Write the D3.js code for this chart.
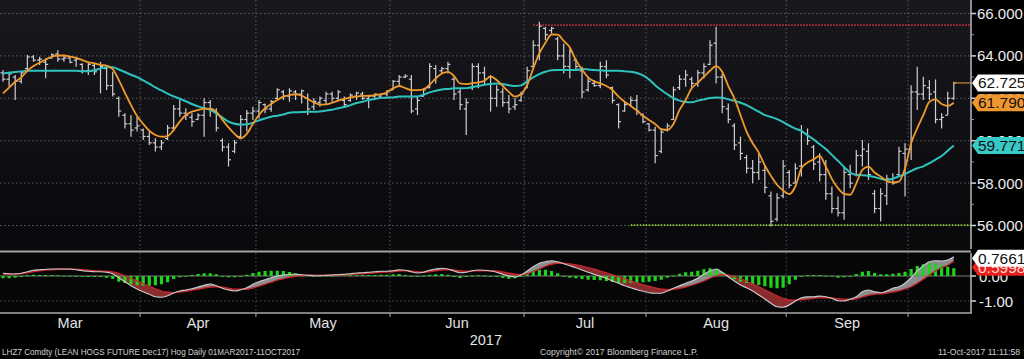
<!DOCTYPE html>
<html>
<head>
<meta charset="utf-8">
<script src="https://cdnjs.cloudflare.com/ajax/libs/d3/7.8.5/d3.min.js"></script>
<style>
    body { margin: 0; background: #000; overflow: hidden; }
    text { font-family: "Liberation Sans", Arial, sans-serif; }
</style>
</head>
<body>
<div id="chart"></div>
<script>
// trading days per month, Mar 2017 - 11 Oct 2017
const monthNames = ["Mar", "Apr", "May", "Jun", "Jul", "Aug", "Sep", "Oct"];
const monthDays = [23, 19, 22, 22, 20, 23, 20, 8];

const priceTicks = [66, 64, 62, 60, 58, 56];
const priceMinorTicks = [65, 63, 61, 59, 57];
const macdTicks = [0, -1];

// daily bars, LHZ7
const highs = [63.33,63.25,63.10,63.25,64.04,64.04,63.96,63.88,64.12,64.27, 64.04,63.99,63.96,63.65,63.72,63.65,63.72,63.49,63.25,62.08,
    61.29,61.21,61.13,60.58,60.43,60.11,60.03,60.74,61.68,61.92, 61.53,61.29,61.29,62.00,61.92,61.53,60.11,59.88,60.03,61.21,
    61.45,61.60,61.92,61.76,61.92,62.47,62.39,62.47,62.39,62.42, 62.23,62.00,62.08,62.31,62.31,62.39,62.08,62.23,62.31,62.31,
    62.15,62.23,62.23,62.39,62.86,63.10,63.14,63.10,62.08,62.47, 63.65,63.57,63.49,63.72,63.02,62.47,62.00,63.65,63.65,63.49,
    63.10,62.62,62.47,62.15,62.00,62.31,63.49,64.74,65.61,65.37, 65.37,64.90,64.59,64.35,63.88,63.49,63.02,62.86,63.72,63.80,
    62.55,61.76,61.84,62.08,62.15,61.29,60.82,60.66,60.58,60.82, 62.55,63.10,63.33,63.02,63.33,63.65,64.74,65.37,63.17,61.76,
    60.82,60.19,59.33,59.09,59.41,58.78,57.60,57.52,59.09,58.62, 58.94,60.74,60.58,59.80,59.41,59.09,57.84,57.37,58.78,58.86,
    59.56,60.03,59.88,57.68,57.76,58.39,58.46,59.72,59.88,62.62, 63.49,63.02,62.86,62.89,61.29,62.31,62.78];
const lows = [62.78,62.55,61.92,62.70,63.33,63.72,63.57,62.94,63.88,63.72, 63.72,63.65,63.49,63.17,63.10,63.10,62.23,62.39,62.08,61.13,
    60.58,60.19,60.43,60.03,59.80,59.49,59.56,60.03,60.43,61.13, 60.98,60.66,60.98,60.19,61.13,60.43,59.49,58.78,59.41,60.11,
    60.43,60.98,61.05,61.29,61.37,61.92,61.92,61.84,61.92,61.76, 61.21,61.45,61.60,61.68,61.84,61.92,61.60,61.84,61.92,61.92,
    61.53,61.92,62.00,62.08,62.39,62.62,62.94,61.29,61.21,62.08, 62.47,62.70,63.17,63.17,61.92,61.45,60.27,62.39,62.47,62.62,
    61.37,61.60,61.60,61.29,61.45,61.84,62.47,63.49,63.80,64.74, 65.06,63.80,63.17,62.94,63.33,62.00,62.31,62.55,62.47,62.94,
    61.76,60.58,61.37,61.60,61.21,60.82,60.43,58.94,59.41,60.43, 60.98,62.39,62.55,62.47,62.55,62.94,63.57,62.70,61.29,60.82,
    59.56,59.09,58.46,57.99,58.15,57.52,55.95,56.19,57.29,57.76, 57.99,58.31,59.80,58.62,58.07,57.21,56.58,56.42,56.27,57.76,
    58.31,58.78,58.15,56.58,56.19,56.97,57.92,58.31,57.37,59.09, 61.45,61.92,61.92,60.82,60.58,61.21,61.92];
const opens = [63.20,62.90,63.00,62.80,63.40,63.95,63.80,63.70,63.90,64.10, 63.85,63.90,63.80,63.60,63.30,63.55,63.40,63.40,62.60,62.00,
    61.20,60.80,60.60,60.50,60.20,59.90,59.70,60.10,60.60,61.50, 61.30,61.10,61.00,61.20,61.80,61.40,60.00,59.70,59.50,60.20,
    61.00,61.30,61.40,61.70,61.50,62.00,62.30,62.10,62.30,62.20, 62.00,61.60,61.80,61.90,62.20,62.00,61.90,61.90,62.10,62.20,
    62.00,62.10,62.10,62.20,62.40,62.80,63.00,62.90,61.50,62.10, 62.50,63.40,63.30,63.40,62.90,62.30,61.50,62.50,63.50,63.20,
    63.00,62.00,62.30,61.80,61.60,61.90,62.50,63.50,64.50,65.30, 65.20,64.80,64.00,63.50,63.80,63.30,62.40,62.70,62.60,63.50,
    62.50,61.70,61.40,61.70,61.90,61.20,60.80,60.50,59.50,60.50, 61.00,62.50,62.90,62.90,62.70,63.20,63.60,64.60,63.00,61.50,
    60.70,59.90,59.20,58.70,58.50,58.60,57.40,56.30,57.40,58.50, 58.00,58.80,60.30,59.70,59.00,58.40,57.50,56.80,56.60,58.40,
    58.40,59.30,59.50,57.50,56.80,57.40,58.20,58.40,59.40,59.60, 62.30,62.20,62.50,62.30,61.00,61.20,62.00];
const closes = [62.90,63.15,62.80,63.20,63.95,63.80,63.85,63.60,64.05,63.85, 63.90,63.70,63.85,63.30,63.60,63.25,63.50,62.60,62.20,61.40,
    60.80,60.50,60.70,60.20,59.90,59.70,59.90,60.60,61.50,61.30, 61.20,60.90,61.20,61.80,61.50,60.60,59.70,59.10,59.90,61.00,
    61.30,61.40,61.80,61.50,61.85,62.40,62.10,62.35,62.20,62.35, 61.50,61.85,62.00,62.20,62.00,62.30,61.70,62.15,62.25,62.00,
    62.10,62.20,62.20,62.35,62.80,63.00,63.05,61.40,61.90,62.40, 63.50,63.00,63.40,63.60,62.20,61.70,61.80,63.50,63.20,62.90,
    62.00,62.40,61.80,61.50,61.70,62.20,63.30,64.50,65.40,65.00, 65.30,64.00,63.50,64.20,63.50,62.30,62.80,62.60,63.50,63.10,
    61.90,60.90,61.70,61.90,61.40,60.90,60.50,59.30,60.40,60.70, 62.40,62.90,63.10,62.70,63.20,63.50,64.50,63.00,61.60,61.00,
    59.80,59.40,58.70,58.50,59.00,57.80,56.20,57.30,58.80,57.90, 58.70,60.40,60.00,58.90,58.40,57.50,56.80,56.60,58.50,58.00,
    59.30,59.60,58.40,56.80,57.50,58.20,58.00,59.50,59.60,62.30, 62.20,62.60,62.20,61.00,61.10,62.00,62.725];

// moving averages as drawn (orange = short, teal = long)
const maShort = [62.23,62.50,62.78,62.99,63.30,63.52,63.68,63.83,63.96,64.02, 64.02,63.97,63.91,63.80,63.70,63.65,63.58,63.54,63.38,62.86,
    62.26,61.68,61.16,60.79,60.47,60.27,60.19,60.22,60.51,60.90, 61.21,61.37,61.45,61.51,61.50,61.37,60.98,60.63,60.32,60.11,
    60.32,60.79,61.21,61.53,61.73,61.92,62.08,62.15,62.19,62.12, 61.97,61.81,61.70,61.71,61.79,61.89,61.97,62.04,62.08,62.11,
    62.12,62.15,62.19,62.28,62.47,62.58,62.48,62.39,62.39,62.42, 62.64,62.94,63.17,63.25,63.05,62.70,62.67,62.72,62.75,62.83,
    63.03,62.86,62.58,62.30,62.08,62.20,62.62,63.41,64.12,64.62, 65.01,65.00,64.71,64.40,63.80,63.36,62.99,62.80,62.70,62.58,
    62.39,62.08,61.84,61.64,61.42,61.18,60.98,60.79,60.54,60.51, 60.79,61.45,61.92,62.47,62.73,63.02,63.30,63.52,63.25,62.58,
    62.00,61.21,60.43,59.88,59.44,58.83,58.34,57.92,57.65,57.48, 57.84,58.70,58.97,59.12,59.28,58.78,58.20,57.76,57.49,57.45,
    57.99,58.62,58.78,58.50,58.31,58.10,58.03,58.07,58.70,59.88, 60.58,61.21,61.84,61.95,61.73,61.64,61.79];
const maLong = [63.17,63.21,63.24,63.27,63.30,63.30,63.30,63.30,63.30,63.30, 63.30,63.30,63.30,63.28,63.28,63.32,63.40,63.47,63.47,63.36,
    63.24,63.11,63.00,62.84,62.69,62.51,62.37,62.22,62.09,61.98, 61.86,61.73,61.62,61.53,61.46,61.29,61.09,60.90,60.80,60.76,
    60.77,60.85,60.96,61.05,61.13,61.18,61.24,61.32,61.34,61.35, 61.37,61.37,61.38,61.42,61.46,61.53,61.59,61.68,61.78,61.84,
    61.92,61.97,62.02,62.03,62.04,62.08,62.08,62.08,62.09,62.17, 62.28,62.36,62.42,62.44,62.47,62.47,62.48,62.53,62.58,62.64,
    62.67,62.70,62.67,62.62,62.58,62.61,62.80,62.99,63.14,63.25, 63.32,63.33,63.33,63.33,63.33,63.38,63.36,63.33,63.32,63.30,
    63.30,63.30,63.27,63.25,63.19,63.08,62.89,62.62,62.39,62.19, 62.01,61.89,61.82,61.81,61.89,61.95,62.01,62.04,62.03,61.95,
    61.89,61.79,61.68,61.53,61.37,61.21,61.12,61.02,60.88,60.71, 60.57,60.46,60.25,60.07,59.83,59.61,59.33,59.05,58.76,58.50,
    58.39,58.37,58.34,58.29,58.20,58.15,58.21,58.31,58.43,58.57, 58.70,58.79,58.94,59.11,59.28,59.53,59.77];

// MACD panel
const macdLine = [0.11,0.09,0.08,0.11,0.17,0.23,0.25,0.27,0.28,0.28, 0.28,0.28,0.25,0.21,0.19,0.17,0.17,0.15,0.09,-0.07,
    -0.23,-0.39,-0.52,-0.63,-0.73,-0.83,-0.85,-0.79,-0.68,-0.60, -0.56,-0.51,-0.44,-0.37,-0.32,-0.39,-0.49,-0.56,-0.60,-0.55,
    -0.47,-0.33,-0.23,-0.15,-0.07,0.00,0.04,0.07,0.07,0.05, 0.03,0.01,0.01,0.03,0.04,0.05,0.07,0.09,0.12,0.13,
    0.15,0.17,0.19,0.19,0.21,0.25,0.23,0.17,0.12,0.15, 0.23,0.28,0.31,0.28,0.20,0.13,0.15,0.21,0.24,0.23,
    0.20,0.15,0.07,0.00,-0.04,0.04,0.20,0.37,0.51,0.57, 0.61,0.57,0.49,0.41,0.33,0.24,0.15,0.07,-0.01,-0.09,
    -0.20,-0.29,-0.39,-0.47,-0.55,-0.61,-0.67,-0.69,-0.69,-0.60, -0.49,-0.39,-0.29,-0.20,-0.09,0.07,0.20,0.28,0.15,-0.03,
    -0.20,-0.36,-0.47,-0.60,-0.76,-0.92,-1.09,-1.23,-1.25,-1.16, -1.00,-0.87,-0.83,-0.83,-0.80,-0.83,-0.89,-0.99,-1.00,-0.93,
    -0.83,-0.63,-0.56,-0.63,-0.67,-0.60,-0.49,-0.43,-0.29,-0.07, 0.20,0.41,0.57,0.61,0.60,0.64,0.77];
const signalLine = [0.07,0.07,0.08,0.09,0.13,0.17,0.21,0.24,0.25,0.27, 0.27,0.27,0.27,0.25,0.23,0.21,0.20,0.19,0.16,0.11,
    0.01,-0.09,-0.20,-0.31,-0.41,-0.51,-0.60,-0.65,-0.67,-0.64, -0.61,-0.57,-0.53,-0.48,-0.44,-0.43,-0.45,-0.49,-0.53,-0.53,
    -0.53,-0.48,-0.41,-0.33,-0.25,-0.17,-0.11,-0.05,-0.01,0.01, 0.03,0.03,0.03,0.03,0.04,0.04,0.05,0.07,0.08,0.09,
    0.11,0.13,0.15,0.16,0.17,0.20,0.21,0.20,0.17,0.16, 0.17,0.21,0.24,0.25,0.24,0.21,0.19,0.20,0.21,0.21,
    0.21,0.20,0.16,0.11,0.07,0.05,0.09,0.17,0.28,0.39, 0.47,0.51,0.51,0.48,0.44,0.39,0.33,0.27,0.20,0.13,
    0.05,-0.03,-0.11,-0.19,-0.27,-0.35,-0.41,-0.48,-0.53,-0.55, -0.53,-0.49,-0.44,-0.37,-0.29,-0.20,-0.09,0.00,0.05,0.04,
    -0.03,-0.12,-0.21,-0.32,-0.43,-0.55,-0.67,-0.79,-0.89,-0.96, -0.97,-0.95,-0.92,-0.89,-0.87,-0.87,-0.88,-0.91,-0.93,-0.93,
    -0.91,-0.84,-0.77,-0.73,-0.71,-0.68,-0.64,-0.59,-0.52,-0.43, -0.29,-0.13,0.04,0.20,0.33,0.43,0.60];
const histValues = [-0.09,-0.09,-0.07,-0.04,0.04,0.05,0.04,0.04,0.04,0.03, 0.01,0.01,0.00,-0.03,-0.04,-0.04,-0.04,-0.07,-0.12,-0.23,
    -0.28,-0.33,-0.37,-0.39,-0.39,-0.37,-0.33,-0.25,-0.12,-0.05, -0.01,0.04,0.08,0.11,0.11,0.07,-0.03,-0.05,-0.05,-0.01,
    0.05,0.12,0.17,0.20,0.21,0.21,0.20,0.16,0.11,0.05, 0.03,0.01,0.01,0.01,0.01,0.03,0.03,0.03,0.03,0.04,
    0.04,0.04,0.05,0.05,0.07,0.08,0.04,-0.01,-0.03,0.01, 0.05,0.07,0.08,0.05,-0.04,-0.08,-0.04,0.01,0.03,0.01,
    0.00,-0.04,-0.08,-0.11,-0.09,0.00,0.12,0.23,0.25,0.25, 0.20,0.11,0.00,-0.07,-0.09,-0.12,-0.15,-0.16,-0.17,-0.20,
    -0.24,-0.28,-0.28,-0.27,-0.27,-0.25,-0.23,-0.20,-0.15,-0.07, 0.01,0.09,0.15,0.17,0.21,0.27,0.31,0.28,0.15,-0.03,
    -0.13,-0.23,-0.28,-0.33,-0.36,-0.41,-0.47,-0.49,-0.47,-0.33, -0.15,-0.03,0.03,0.04,0.04,0.01,-0.03,-0.07,-0.05,0.00,
    0.08,0.17,0.20,0.12,0.07,0.07,0.09,0.12,0.17,0.28, 0.40,0.47,0.51,0.49,0.44,0.37,0.31];

// horizontal study lines: [start day, level]
const resistance = [87, 65.45];
const support = [103, 56.02];

// last-value tags
const priceTags = [["62.725", 62.725, "#ffffff"], ["61.790", 61.790, "#f0962e"], ["59.771", 59.771, "#36c9c6"]];
const macdTags = [["0.7661", 0.7661, "#ffffff"], ["0.5998", 0.5998, "#e8201c"]];

const titleText = "LHZ7 Comdty (LEAN HOGS FUTURE  Dec17) Hog  Daily 01MAR2017-11OCT2017";
const copyText = "Copyright\u00a9 2017 Bloomberg Finance L.P.";
const stampText = "11-Oct-2017 11:11:58";
const yearText = "2017";

function init() {
    let width = 1024;
    let height = 359;
    let axisX = 971;
    let svg = d3.select("#chart")
        .append("svg")
        .attr("width", width)
        .attr("height", height);

    let n = closes.length;
    let xScale = d3.scaleLinear().domain([0, n - 1]).range([3, 953.8]);
    let yScale = d3.scaleLinear().domain([56, 66]).range([225.5, 13.5]);
    let mScale = d3.scaleLinear().domain([-1, 0]).range([301, 276]);

    // backgrounds
    let grad = svg.append("defs").append("linearGradient")
        .attr("id", "bg").attr("x1", 0).attr("y1", 0).attr("x2", 0).attr("y2", 1);
    grad.append("stop").attr("offset", "0%").attr("stop-color", "#18181d");
    grad.append("stop").attr("offset", "100%").attr("stop-color", "#09090c");
    svg.append("rect").attr("width", width).attr("height", height).attr("fill", "#000");
    svg.append("rect").attr("x", 0).attr("y", 0).attr("width", axisX).attr("height", 250).attr("fill", "url(#bg)");
    svg.append("rect").attr("x", 0).attr("y", 253).attr("width", axisX).attr("height", 60).attr("fill", "#060607");

    // month boundaries
    let starts = [];
    let acc = 0;
    monthDays.forEach(d => { starts.push(acc); acc += d; });
    let bounds = starts.slice(1);

    // grid
    svg.append("g").selectAll("line").data(priceTicks).join("line")
        .attr("x1", 0).attr("x2", axisX)
        .attr("y1", d => yScale(d)).attr("y2", d => yScale(d))
        .attr("stroke", "#5c5c60").attr("stroke-dasharray", "1.5,2.5");
    svg.append("g").selectAll("line").data(bounds).join("line")
        .attr("x1", d => xScale(d - 0.5)).attr("x2", d => xScale(d - 0.5))
        .attr("y1", 0).attr("y2", 249)
        .attr("stroke", "#5c5c60").attr("stroke-dasharray", "1.5,2.5");
    svg.append("g").selectAll("line").data(bounds).join("line")
        .attr("x1", d => xScale(d - 0.5)).attr("x2", d => xScale(d - 0.5))
        .attr("y1", 253).attr("y2", 313)
        .attr("stroke", "#4a4a4e").attr("stroke-dasharray", "1.5,2.5");
    svg.append("line").attr("x1", 0).attr("x2", axisX)
        .attr("y1", mScale(-1)).attr("y2", mScale(-1))
        .attr("stroke", "#4a4a4e").attr("stroke-dasharray", "1.5,2.5");

    // study lines
    svg.append("line")
        .attr("x1", xScale(resistance[0])).attr("x2", axisX)
        .attr("y1", yScale(resistance[1])).attr("y2", yScale(resistance[1]))
        .attr("stroke", "#c8323f").attr("stroke-width", 1.6).attr("stroke-dasharray", "1.5,1.5");
    svg.append("line")
        .attr("x1", xScale(support[0])).attr("x2", axisX)
        .attr("y1", yScale(support[1])).attr("y2", yScale(support[1]))
        .attr("stroke", "#8fd12c").attr("stroke-width", 1.6).attr("stroke-dasharray", "1.5,1.5");

    // OHLC bars
    let bars = svg.append("g").attr("stroke", "#cfcfd2").attr("stroke-width", 1.2);
    d3.range(n).forEach(i => {
        let x = xScale(i);
        bars.append("line").attr("x1", x).attr("x2", x)
            .attr("y1", yScale(highs[i])).attr("y2", yScale(lows[i]));
        bars.append("line").attr("x1", x - 2.5).attr("x2", x)
            .attr("y1", yScale(opens[i])).attr("y2", yScale(opens[i]));
        bars.append("line").attr("x1", x).attr("x2", x + 2.5)
            .attr("y1", yScale(closes[i])).attr("y2", yScale(closes[i]));
    });

    // last price line
    svg.append("line")
        .attr("x1", xScale(n - 1)).attr("x2", axisX)
        .attr("y1", yScale(closes[n - 1])).attr("y2", yScale(closes[n - 1]))
        .attr("stroke", "#c98a36").attr("stroke-width", 1.2);

    // moving averages
    let maLine = d3.line().curve(d3.curveMonotoneX)
        .x((d, i) => xScale(i)).y(d => yScale(d));
    svg.append("path").datum(maLong)
        .attr("fill", "none").attr("stroke", "#2fc3bf").attr("stroke-width", 2)
        .attr("d", maLine);
    svg.append("path").datum(maShort)
        .attr("fill", "none").attr("stroke", "#f09a2c").attr("stroke-width", 1.8)
        .attr("d", maLine);

    // MACD panel
    let defs = svg.select("defs");
    let sigTop = d3.area().curve(d3.curveMonotoneX)
        .x((d, i) => xScale(i)).y0(240).y1(d => mScale(d));
    let sigBottom = d3.area().curve(d3.curveMonotoneX)
        .x((d, i) => xScale(i)).y0(330).y1(d => mScale(d));
    defs.append("clipPath").attr("id", "aboveSig").append("path").datum(signalLine).attr("d", sigTop);
    defs.append("clipPath").attr("id", "belowSig").append("path").datum(signalLine).attr("d", sigBottom);
    let between = d3.area().curve(d3.curveMonotoneX)
        .x((d, i) => xScale(i)).y0(d => mScale(d[0])).y1(d => mScale(d[1]));
    let pairs = macdLine.map((d, i) => [d, signalLine[i]]);
    svg.append("path").datum(pairs).attr("d", between)
        .attr("fill", "#8d8d90").attr("clip-path", "url(#aboveSig)");
    svg.append("path").datum(pairs).attr("d", between)
        .attr("fill", "#8a2b2e").attr("clip-path", "url(#belowSig)");

    svg.append("line").attr("x1", 0).attr("x2", axisX)
        .attr("y1", mScale(0)).attr("y2", mScale(0))
        .attr("stroke", "#7a7a7e").attr("stroke-width", 1);

    svg.append("g").selectAll("rect").data(histValues).join("rect")
        .attr("x", (d, i) => xScale(i) - 1.6)
        .attr("width", 3.2)
        .attr("y", d => Math.min(mScale(d), mScale(0)))
        .attr("height", d => Math.max(0.8, Math.abs(mScale(d) - mScale(0))))
        .attr("fill", "#1fd21c");

    let mLine = d3.line().curve(d3.curveMonotoneX)
        .x((d, i) => xScale(i)).y(d => mScale(d));
    svg.append("path").datum(signalLine)
        .attr("fill", "none").attr("stroke", "#c4262a").attr("stroke-width", 1.3).attr("d", mLine);
    svg.append("path").datum(macdLine)
        .attr("fill", "none").attr("stroke", "#c9c9cc").attr("stroke-width", 1.2).attr("d", mLine);

    // separator and frame
    svg.append("line").attr("x1", 0).attr("x2", axisX).attr("y1", 251.5).attr("y2", 251.5)
        .attr("stroke", "#a3a3a6").attr("stroke-width", 2);
    svg.append("line").attr("x1", axisX).attr("x2", axisX).attr("y1", 0).attr("y2", 249)
        .attr("stroke", "#b8b8bb").attr("stroke-width", 1.5);
    svg.append("line").attr("x1", axisX).attr("x2", axisX).attr("y1", 253).attr("y2", 313)
        .attr("stroke", "#b8b8bb").attr("stroke-width", 1.5);
    svg.append("line").attr("x1", 0).attr("x2", axisX + 1).attr("y1", 313).attr("y2", 313)
        .attr("stroke", "#a8a8ab").attr("stroke-width", 1.5);

    // bottom axis ticks and month labels
    svg.append("g").selectAll("line").data(bounds).join("line")
        .attr("x1", d => xScale(d - 0.5)).attr("x2", d => xScale(d - 0.5))
        .attr("y1", 313).attr("y2", 317)
        .attr("stroke", "#a8a8ab");
    svg.append("g").selectAll("text").data(monthNames.slice(0, 7)).join("text")
        .attr("x", (d, i) => xScale(starts[i] + (monthDays[i] - 1) / 2))
        .attr("y", 328)
        .attr("text-anchor", "middle")
        .attr("fill", "#e4e4e6")
        .attr("font-size", 14.5)
        .text(d => d);
    svg.append("text").attr("x", 502).attr("y", 345).attr("text-anchor", "end")
        .attr("fill", "#e4e4e6").attr("font-size", 14.5).text(yearText);

    // right axis ticks and labels
    svg.append("g").selectAll("line").data(priceTicks).join("line")
        .attr("x1", axisX).attr("x2", axisX + 5)
        .attr("y1", d => yScale(d)).attr("y2", d => yScale(d))
        .attr("stroke", "#d0d0d3").attr("stroke-width", 1.5);
    svg.append("g").selectAll("line").data(priceMinorTicks).join("line")
        .attr("x1", axisX).attr("x2", axisX + 3)
        .attr("y1", d => yScale(d)).attr("y2", d => yScale(d))
        .attr("stroke", "#9a9a9d");
    svg.append("g").selectAll("text").data(priceTicks).join("text")
        .attr("x", axisX + 6).attr("y", d => yScale(d) + 5.5)
        .attr("fill", "#ececee").attr("font-size", 15)
        .text(d => d.toFixed(3));
    svg.append("g").selectAll("line").data(macdTicks).join("line")
        .attr("x1", axisX).attr("x2", axisX + 5)
        .attr("y1", d => mScale(d)).attr("y2", d => mScale(d))
        .attr("stroke", "#d0d0d3").attr("stroke-width", 1.5);
    svg.append("g").selectAll("text").data(macdTicks).join("text")
        .attr("x", axisX + 8).attr("y", d => mScale(d) + 5.5)
        .attr("fill", "#ececee").attr("font-size", 15)
        .text(d => d.toFixed(2));

    // value tags
    function tag(label, yc, fill, textFill) {
        let x0 = axisX + 1;
        let g = svg.append("g");
        g.append("path")
            .attr("d", `M${x0},${yc} L${x0 + 6},${yc - 8.5} L${width},${yc - 8.5} L${width},${yc + 8.5} L${x0 + 6},${yc + 8.5} Z`)
            .attr("fill", fill);
        g.append("text").attr("x", x0 + 6).attr("y", yc + 5.5)
            .attr("fill", textFill).attr("font-size", 15.5).text(label);
    }
    priceTags.forEach(t => tag(t[0], yScale(t[1]), t[2], "#111"));
    let whiteY = mScale(macdTags[0][1]) + 1.5;
    let redY = Math.max(mScale(macdTags[1][1]), whiteY + 9);
    tag(macdTags[1][0], redY, macdTags[1][2], "#ffd6d6");
    tag(macdTags[0][0], whiteY, macdTags[0][2], "#111");

    // footer
    svg.append("text").attr("x", 2).attr("y", 355).attr("fill", "#cfcfd2")
        .attr("font-size", 8.6).attr("textLength", 298).attr("lengthAdjust", "spacingAndGlyphs")
        .text(titleText);
    svg.append("text").attr("x", 540).attr("y", 355).attr("fill", "#cfcfd2")
        .attr("font-size", 8.6).attr("textLength", 158).attr("lengthAdjust", "spacingAndGlyphs")
        .text(copyText);
    svg.append("text").attr("x", 1020).attr("y", 355).attr("fill", "#cfcfd2")
        .attr("text-anchor", "end")
        .attr("font-size", 8.4).attr("textLength", 82).attr("lengthAdjust", "spacingAndGlyphs")
        .text(stampText);
}

window.addEventListener('load', init);
</script>
</body>
</html>
